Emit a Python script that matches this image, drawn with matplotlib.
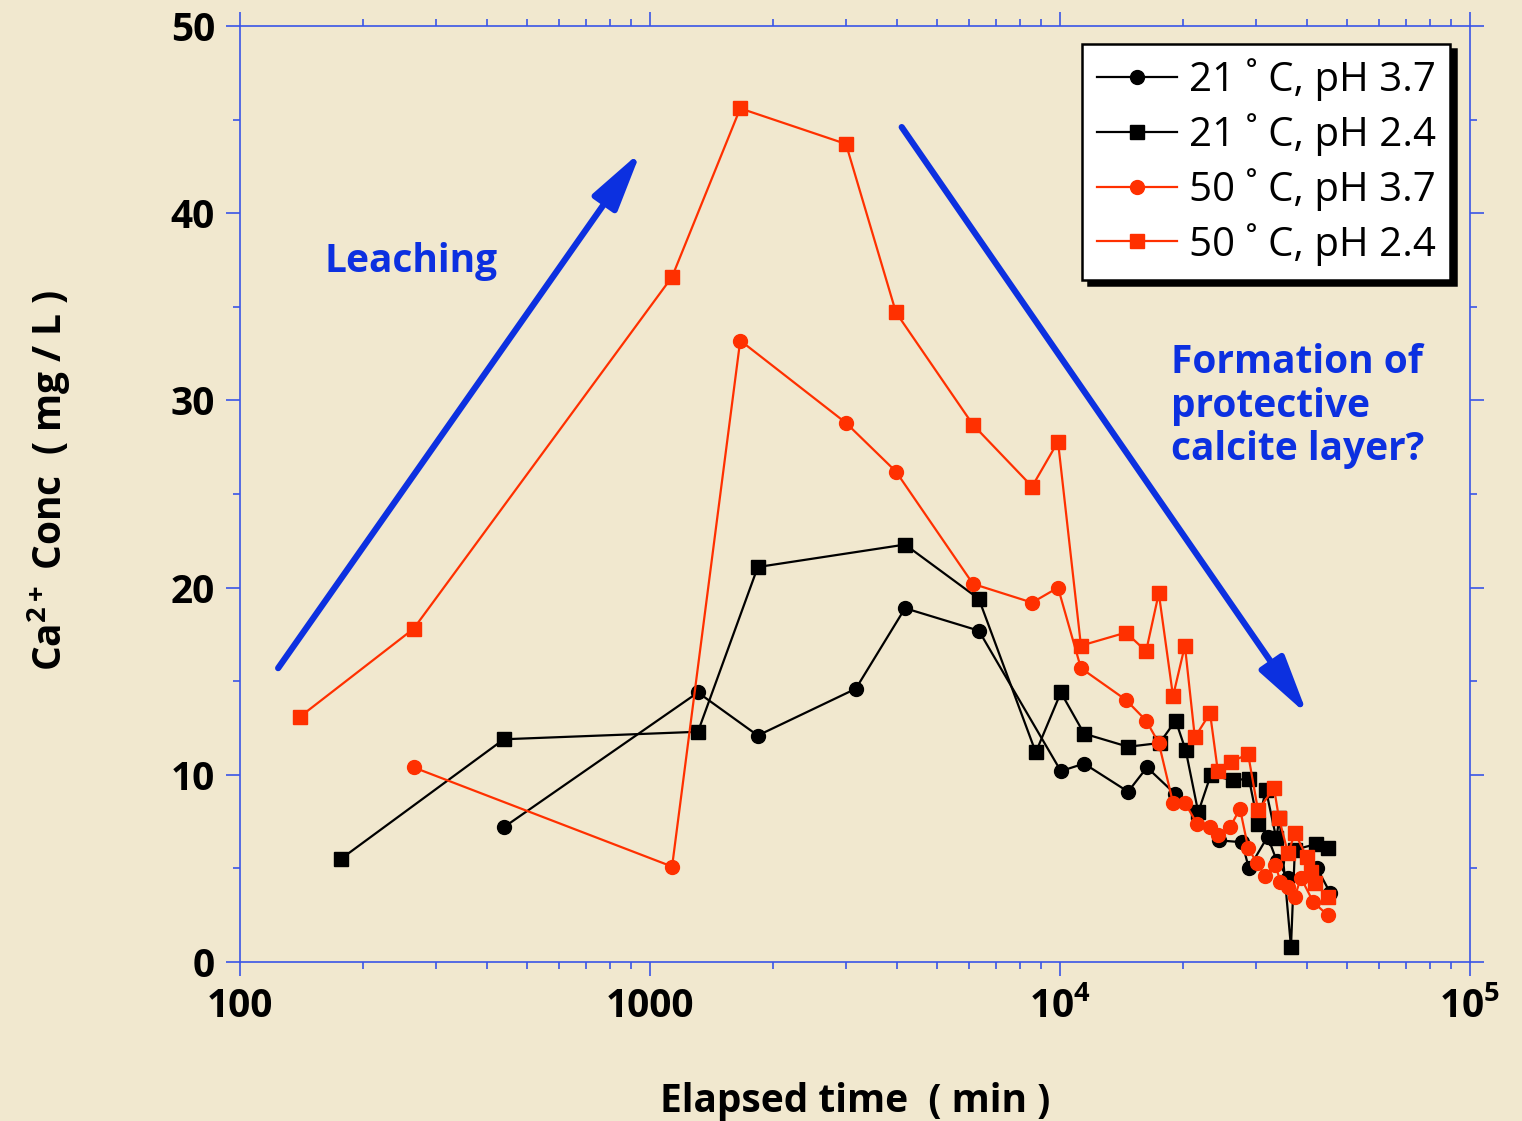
import matplotlib
matplotlib.use("Agg")
import matplotlib.pyplot as plt
from matplotlib.ticker import FixedLocator, FixedFormatter, MultipleLocator, LogLocator

# ---- data (time in min, Ca2+ in mg/L) ----
t_21_37 = [440, 1309, 1832, 3177, 4189, 6340, 10050, 11450, 14660, 16300, 19050,
           24420, 27800, 28900, 32100, 33800, 36000, 42400, 45600]
ca_21_37 = [7.2, 14.4, 12.1, 14.6, 18.9, 17.7, 10.2, 10.6, 9.1, 10.4, 9.0,
            6.5, 6.4, 5.0, 6.7, 5.4, 4.5, 5.0, 3.7]

t_21_24 = [176, 440, 1309, 1832, 4189, 6340, 8730, 10050, 11450, 14660, 17500,
           19150, 20270, 21740, 23330, 26400, 28900, 30400, 31800, 33700, 34300,
           36600, 37400, 42100, 45100]
ca_21_24 = [5.5, 11.9, 12.3, 21.1, 22.3, 19.4, 11.2, 14.4, 12.2, 11.5, 11.7,
            12.9, 11.3, 8.0, 10.0, 9.7, 9.8, 7.4, 9.2, 6.6, 7.7,
            0.8, 6.0, 6.3, 6.1]

t_50_37 = [265, 1132, 1660, 3006, 3981, 6135, 8550, 9890, 11250, 14490, 16220,
           17420, 18870, 20170, 21590, 23230, 24270, 26000, 27480, 28770, 30200,
           31700, 33500, 34500, 36000, 37400, 38700, 41500, 45000]
ca_50_37 = [10.4, 5.1, 33.2, 28.8, 26.2, 20.2, 19.2, 20.0, 15.7, 14.0, 12.9,
            11.7, 8.5, 8.5, 7.4, 7.2, 6.8, 7.2, 8.2, 6.1, 5.3,
            4.6, 5.2, 4.3, 4.0, 3.5, 4.5, 3.2, 2.5]

t_50_24 = [140, 265, 1132, 1660, 3006, 3981, 6135, 8550, 9890, 11250, 14490,
           16220, 17420, 18870, 20170, 21330, 23230, 24270, 26120, 28770, 30420,
           33270, 34200, 36000, 37420, 40000, 41000, 42000, 45000]
ca_50_24 = [13.1, 17.8, 36.6, 45.6, 43.7, 34.7, 28.7, 25.4, 27.8, 16.9, 17.6,
            16.6, 19.7, 14.2, 16.9, 12.0, 13.3, 10.2, 10.7, 11.1, 8.1,
            9.3, 7.7, 5.8, 6.9, 5.6, 4.8, 4.2, 3.5]

x_ticks = [100, 1000, 1e4, 1e5]
x_ticklabels = ["100", "1000", r"$\mathregular{10^4}$", r"$\mathregular{10^5}$"]

BG = "#f1e8cf"
AXBLUE = "#3a55e6"
TXTBLUE = "#0c30e0"
RED = "#ff3000"

plt.rcParams["font.family"] = ["Open Sans", "DejaVu Sans"]
plt.rcParams["mathtext.fontset"] = "custom"
plt.rcParams["mathtext.rm"] = "Open Sans:bold"

fig = plt.figure(figsize=(15.22, 11.21), dpi=100, facecolor=BG)
ax = fig.add_axes([0.1577, 0.1418, 0.8081, 0.835])
ax.set_facecolor("none")

ax.plot(t_21_37, ca_21_37, "-o", color="black", lw=1.6, ms=10, label="21 ˚ C, pH 3.7")
ax.plot(t_21_24, ca_21_24, "-s", color="black", lw=1.6, ms=9.5, label="21 ˚ C, pH 2.4")
ax.plot(t_50_37, ca_50_37, "-o", color=RED, lw=1.6, ms=10, label="50 ˚ C, pH 3.7")
ax.plot(t_50_24, ca_50_24, "-s", color=RED, lw=1.6, ms=9.5, label="50 ˚ C, pH 2.4")

ax.set_xscale("log")
ax.set_xlim(100, 1e5)
ax.set_ylim(0, 50)
ax.xaxis.set_major_locator(FixedLocator(x_ticks))
ax.xaxis.set_major_formatter(FixedFormatter(x_ticklabels))
ax.xaxis.set_minor_locator(LogLocator(base=10, subs=range(2, 10)))
ax.yaxis.set_major_locator(MultipleLocator(10))
ax.yaxis.set_minor_locator(MultipleLocator(5))

for sp in ax.spines.values():
    sp.set_color(AXBLUE)
    sp.set_linewidth(1.2)
ax.tick_params(which="both", direction="out", top=True, right=True,
               color=AXBLUE, width=1.2)
ax.tick_params(which="major", length=10, labelsize=28, pad=8)
ax.tick_params(which="minor", length=5)
for lab in ax.get_xticklabels() + ax.get_yticklabels():
    lab.set_fontweight("bold")

ax.set_xlabel("Elapsed time  ( min )", fontsize=28, fontweight="bold", labelpad=40)
ax.set_ylabel(r"Ca$^{2+}$ Conc  ( mg / L )", fontsize=28, fontweight="bold", labelpad=70)
ax.yaxis.label.set_y(0.515)

# annotations
arrow = dict(arrowstyle="-|>,head_length=0.9,head_width=0.22",
             lw=4.5, color=TXTBLUE, mutation_scale=40, shrinkA=0, shrinkB=0)
ax.annotate("", xy=(0.326, 0.866), xytext=(0.031, 0.314), xycoords="axes fraction",
            arrowprops=arrow)
ax.annotate("", xy=(0.868, 0.264), xytext=(0.538, 0.892), xycoords="axes fraction",
            arrowprops=arrow)
ax.text(0.069, 0.748, "Leaching", transform=ax.transAxes, color=TXTBLUE,
        fontsize=28, fontweight="bold", va="center", ha="left")
ax.text(0.757, 0.594, "Formation of\nprotective\ncalcite layer?", transform=ax.transAxes,
        color=TXTBLUE, fontsize=28, fontweight="bold", va="center", ha="left",
        linespacing=1.15)

leg = ax.legend(loc="upper right", bbox_to_anchor=(0.984, 0.981), borderaxespad=0,
                fontsize=29, fancybox=False, framealpha=1, edgecolor="black",
                handlelength=2.0, handletextpad=0.3, labelspacing=0.3, borderpad=0.35,
                shadow={"ox": 4, "oy": -4, "color": "black", "alpha": 1})
leg.get_frame().set_linewidth(1.8)
for txt in leg.get_texts():
    txt.set_fontweight("medium")

fig.savefig("out.png", dpi=100, facecolor=BG)
